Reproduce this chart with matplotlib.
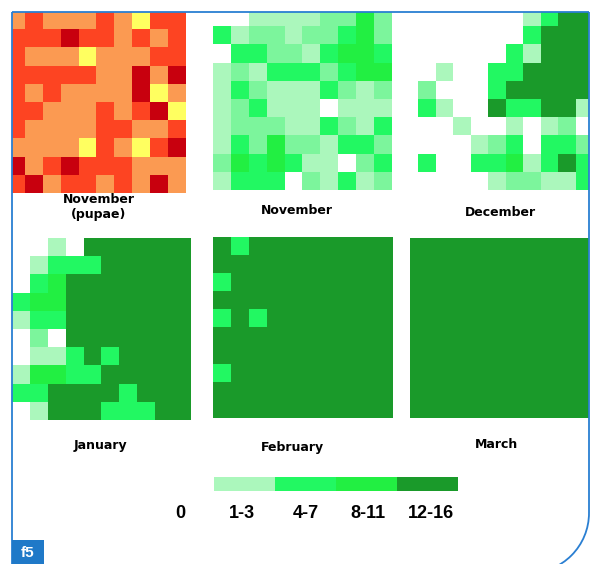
import matplotlib
matplotlib.use('Agg')
import matplotlib.pyplot as plt
import numpy as np
from matplotlib.colors import ListedColormap
from matplotlib.patches import Rectangle, Arc

# pupae levels: 1 light orange, 2 orange-red, 3 dark red, 4 yellow
pupae_nov = [
    [1, 2, 1, 1, 1, 2, 1, 4, 2, 2],
    [2, 2, 2, 3, 2, 2, 1, 2, 1, 2],
    [2, 1, 1, 1, 4, 1, 1, 1, 2, 2],
    [2, 2, 2, 2, 2, 1, 1, 3, 1, 3],
    [2, 1, 2, 1, 1, 1, 1, 3, 4, 1],
    [2, 2, 1, 1, 1, 2, 1, 2, 3, 4],
    [2, 1, 1, 1, 1, 2, 2, 1, 1, 2],
    [1, 1, 1, 1, 4, 2, 1, 4, 2, 3],
    [3, 1, 2, 3, 2, 2, 2, 1, 1, 1],
    [2, 3, 1, 2, 2, 1, 2, 1, 3, 1],
]

# larval count classes: 0 none, 1 (1-3), 2 (intermediate), 3 (4-7), 4 (8-11), 5 (12-16)
larvae_nov = [
    [0, 0, 1, 1, 1, 1, 2, 2, 4, 2],
    [3, 1, 2, 2, 1, 2, 2, 3, 4, 2],
    [0, 3, 3, 2, 2, 1, 3, 4, 4, 3],
    [1, 2, 1, 3, 3, 3, 2, 3, 4, 4],
    [1, 3, 2, 1, 1, 1, 3, 2, 1, 2],
    [1, 2, 3, 1, 1, 1, 0, 1, 1, 1],
    [1, 2, 2, 2, 1, 1, 3, 2, 1, 3],
    [1, 3, 2, 4, 2, 2, 1, 3, 3, 2],
    [2, 4, 3, 4, 3, 1, 1, 0, 2, 3],
    [1, 3, 3, 3, 0, 2, 1, 3, 1, 2],
]
larvae_dec = [
    [0, 0, 0, 0, 0, 0, 1, 3, 5, 5],
    [0, 0, 0, 0, 0, 0, 3, 5, 5, 5],
    [0, 0, 0, 0, 0, 3, 1, 5, 5, 5],
    [0, 1, 0, 0, 3, 3, 5, 5, 5, 5],
    [2, 0, 0, 0, 3, 5, 5, 5, 5, 5],
    [3, 1, 0, 0, 5, 3, 3, 5, 5, 1],
    [0, 0, 1, 0, 0, 1, 0, 1, 2, 0],
    [0, 0, 0, 1, 2, 3, 0, 3, 3, 2],
    [3, 0, 0, 3, 3, 4, 1, 3, 5, 3],
    [0, 0, 0, 0, 1, 2, 2, 1, 1, 3],
]
larvae_jan = [
    [0, 0, 1, 0, 5, 5, 5, 5, 5, 5],
    [0, 1, 3, 3, 3, 5, 5, 5, 5, 5],
    [0, 3, 4, 5, 5, 5, 5, 5, 5, 5],
    [3, 4, 4, 5, 5, 5, 5, 5, 5, 5],
    [1, 3, 3, 5, 5, 5, 5, 5, 5, 5],
    [0, 2, 0, 5, 5, 5, 5, 5, 5, 5],
    [0, 1, 1, 3, 5, 3, 5, 5, 5, 5],
    [1, 4, 4, 3, 3, 5, 5, 5, 5, 5],
    [3, 3, 5, 5, 5, 5, 3, 5, 5, 5],
    [0, 1, 5, 5, 5, 3, 3, 3, 5, 5],
]
larvae_feb = [
    [5, 3, 5, 5, 5, 5, 5, 5, 5, 5],
    [5, 5, 5, 5, 5, 5, 5, 5, 5, 5],
    [3, 5, 5, 5, 5, 5, 5, 5, 5, 5],
    [5, 5, 5, 5, 5, 5, 5, 5, 5, 5],
    [3, 5, 3, 5, 5, 5, 5, 5, 5, 5],
    [5, 5, 5, 5, 5, 5, 5, 5, 5, 5],
    [5, 5, 5, 5, 5, 5, 5, 5, 5, 5],
    [3, 5, 5, 5, 5, 5, 5, 5, 5, 5],
    [5, 5, 5, 5, 5, 5, 5, 5, 5, 5],
    [5, 5, 5, 5, 5, 5, 5, 5, 5, 5],
]
larvae_mar = [[5] * 10 for _ in range(10)]

titles = ['November\n(pupae)', 'November', 'December', 'January', 'February', 'March']
legend_labels = ['0', '1-3', '4-7', '8-11', '12-16']
legend_classes = [1, 3, 4, 5]

pupae_cmap = ListedColormap(['#ffffff', '#fb9a52', '#fd4422', '#c8000e', '#ffff60'])
green_cmap = ListedColormap(['#ffffff', '#abf7bc', '#7cf59c', '#22f862', '#22ef42', '#1a9a2a'])

fig = plt.figure(figsize=(5.92, 5.64), dpi=100)
ax = fig.add_axes([0, 0, 1, 1])
ax.set_xlim(0, 592)
ax.set_ylim(564, 0)
ax.axis('off')

# (left, right, top, bottom) in pixels for each grid
extents = [(7, 186, 11, 193), (213, 391.5, 8.5, 190), (417.5, 592.5, 8.5, 190),
           (12, 190.5, 238, 420), (213, 393, 237, 418), (410, 590, 238, 418)]
grids = [pupae_nov, larvae_nov, larvae_dec, larvae_jan, larvae_feb, larvae_mar]
title_pos = [(99, 207), (297, 211), (500, 213), (100, 445), (292, 448), (497, 445)]

for i, (grid, (x0, x1, y0, y1)) in enumerate(zip(grids, extents)):
    cmap = pupae_cmap if i == 0 else green_cmap
    vmax = 4 if i == 0 else 5
    ax.imshow(np.array(grid), cmap=cmap, vmin=0, vmax=vmax, interpolation='nearest',
              extent=(x0, x1, y1, y0), aspect='auto')
    tx, ty = title_pos[i]
    ax.text(tx, ty, titles[i], ha='center', va='center', fontsize=9,
            fontweight='bold', family='DejaVu Sans', linespacing=1.15)

# colour key
bar_x = [214, 275, 336, 397]
for bx, cls in zip(bar_x, legend_classes):
    ax.add_patch(Rectangle((bx, 477), 61, 14, color=green_cmap(cls), lw=0))
label_x = [180, 242, 306, 368, 431]
for lx, lab in zip(label_x, legend_labels):
    ax.text(lx, 514, lab, ha='center', va='center', fontsize=13, fontweight='bold',
            family='Liberation Sans')

# mask outside the frame, then the frame itself
blue = '#2a7fd2'
for r in [(0, 0, 12, 564), (0, 0, 592, 12), (589, 0, 3, 564)]:
    ax.add_patch(Rectangle(r[:2], r[2], r[3], color='white', lw=0, zorder=3))
ax.plot([12, 12], [564, 12], color=blue, lw=1.3, zorder=4, solid_capstyle='butt')
ax.plot([12, 589], [12, 12], color=blue, lw=1.3, zorder=4, solid_capstyle='butt')
ax.plot([589, 589], [12, 513], color=blue, lw=1.3, zorder=4, solid_capstyle='butt')
ax.add_patch(Arc((529, 513), 120, 120, theta1=0, theta2=90, color=blue, lw=1.3, zorder=4))

ax.add_patch(Rectangle((12, 540), 32, 24, color='#1f79c8', lw=0, zorder=5))
ax.text(28, 553, 'f5', ha='center', va='center', color='white', fontsize=11,
        fontweight='bold', family='Liberation Sans', zorder=6)

fig.savefig('out.png', dpi=100)
